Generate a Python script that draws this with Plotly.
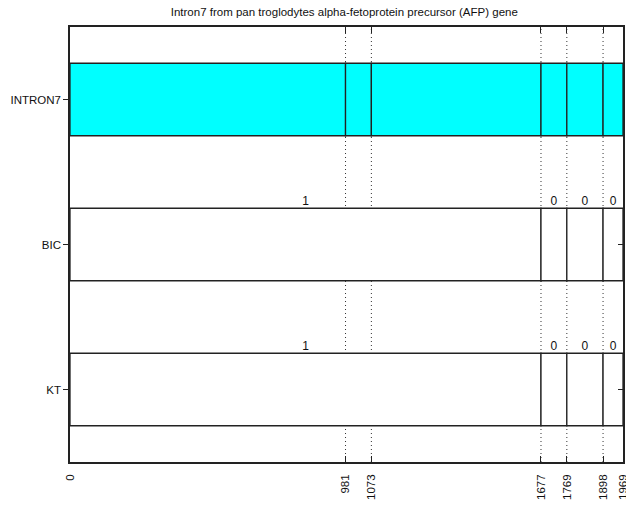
import plotly.graph_objects as go

# ---- data ----
title_text = "Intron7 from pan troglodytes alpha-fetoprotein precursor (AFP) gene"
row_labels = ["KT", "BIC", "INTRON7"]
row_pos = [0, 1, 2]
breakpoints = [0, 981, 1073, 1677, 1769, 1898, 1969]
bic_breaks = [0, 1677, 1769, 1898, 1969]
bic_values = [1, 0, 0, 0]
kt_breaks = [0, 1677, 1769, 1898, 1969]
kt_values = [1, 0, 0, 0]
dotted_breaks = [981, 1073, 1677, 1769, 1898]

LINE = "#222222"
FONT = "Liberation Sans, Arial, sans-serif"

fig = go.Figure()


def seg_bar(breaks, ypos, fill):
    starts = breaks[:-1]
    lengths = [b - a for a, b in zip(breaks[:-1], breaks[1:])]
    return go.Bar(
        orientation="h",
        y=[ypos] * len(starts),
        x=lengths,
        base=starts,
        width=0.5,
        marker=dict(color=fill, line=dict(color=LINE, width=1.3)),
        hoverinfo="skip",
        showlegend=False,
    )


fig.add_trace(seg_bar(breakpoints, 2, "#00FFFF"))
fig.add_trace(seg_bar(bic_breaks, 1, "#FFFFFF"))
fig.add_trace(seg_bar(kt_breaks, 0, "#FFFFFF"))

# value labels above segments
for breaks, vals, ypos in [(bic_breaks, bic_values, 1), (kt_breaks, kt_values, 0)]:
    centers = [(a + b) / 2 for a, b in zip(breaks[:-1], breaks[1:])]
    fig.add_trace(go.Scatter(
        x=centers, y=[ypos + 0.25] * len(centers), mode="text",
        text=[str(v) for v in vals], textposition="top center",
        textfont=dict(family=FONT, size=12, color="#111111"),
        hoverinfo="skip", showlegend=False, cliponaxis=False,
    ))

# dotted vertical lines
for bp in dotted_breaks:
    fig.add_shape(type="line", xref="x", yref="paper", x0=bp, x1=bp, y0=0, y1=1,
                  line=dict(color="#333333", width=1, dash="1px,3px"), layer="below")

# invisible trace on right y axis to enable mirror ticks inside
fig.add_trace(go.Scatter(x=[None], y=[None], yaxis="y2", showlegend=False, hoverinfo="skip"))

fig.update_layout(
    width=626, height=505,
    margin=dict(l=70, r=3, t=27, b=43, autoexpand=False),
    paper_bgcolor="white", plot_bgcolor="white",
    barmode="overlay",
    title=dict(text=title_text, x=0.55, xanchor="center", y=0.976, yanchor="middle",
               font=dict(family=FONT, size=11.5, color="#111111")),
    font=dict(family=FONT, size=11, color="#111111"),
    xaxis=dict(
        range=[0, 1969], tickvals=breakpoints, ticktext=[str(b) for b in breakpoints],
        tickangle=-90, ticks="inside", ticklen=6, tickcolor=LINE,
        showline=True, linecolor=LINE, linewidth=1.5, mirror="ticks",
        showgrid=False, zeroline=False, tickfont=dict(size=11.5),
        ticklabelstandoff=6, ticklabeloverflow="allow",
    ),
    yaxis=dict(
        range=[-0.5, 2.5], tickvals=row_pos, ticktext=row_labels,
        ticks="outside", ticklen=5, tickcolor=LINE,
        showline=True, linecolor=LINE, linewidth=1.5, mirror=True,
        showgrid=False, zeroline=False, tickfont=dict(size=11.5),
    ),
    yaxis2=dict(
        range=[-0.5, 2.5], overlaying="y", side="right", tickvals=[0, 1],
        ticks="inside", ticklen=5, tickcolor=LINE, showticklabels=False,
        showline=False, showgrid=False, zeroline=False,
    ),
)

fig.write_html(
    "out.html",
    config={"displayModeBar": False},
    post_script="document.body.style.margin='0';document.body.style.overflow='hidden';"
                "document.documentElement.style.overflow='hidden';",
)
